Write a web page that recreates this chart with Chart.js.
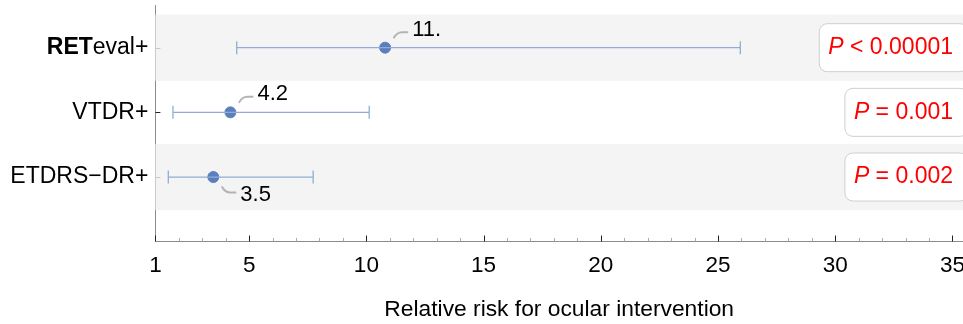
<!DOCTYPE html>
<html>
<head>
<meta charset="utf-8">
<script src="https://cdn.jsdelivr.net/npm/chart.js@4.4.1/dist/chart.umd.min.js"></script>
<style>
    body { margin: 0; background: #fff; }
    #wrap { width: 963px; height: 324px; position: relative; }
</style>
</head>
<body>
<div id="wrap"><canvas id="chart"></canvas></div>
<script>
// rows top to bottom
const categories = ['RETeval+', 'VTDR+', 'ETDRS\u2212DR+'];
const rowPos = [3, 2, 1];
const relRisk = [10.8, 4.2, 3.47];
const riskLabels = ['11.', '4.2', '3.5'];
const ciLow = [4.47, 1.75, 1.55];
const ciHigh = [25.95, 10.12, 7.73];
const pRelation = ['<', '=', '='];
const pValues = ['0.00001', '0.001', '0.002'];
const xTickValues = [1, 5, 10, 15, 20, 25, 30, 35];
const xTitle = 'Relative risk for ocular intervention';

const FONT = '"Liberation Sans", Arial, sans-serif';
const pointColor = '#5b7fbc';
const barColor = '#92acd6';
const labelBelow = [false, false, true];
const shaded = [true, false, true];

const datasets = [];
for (let i = 0; i < categories.length; i++) {
    datasets.push({
        type: 'line',
        data: [{x: ciLow[i], y: rowPos[i]}, {x: ciHigh[i], y: rowPos[i]}],
        borderColor: barColor,
        borderWidth: 1.3,
        pointStyle: 'line',
        pointRotation: 90,
        pointRadius: 6.5,
        pointBorderColor: barColor,
        pointBorderWidth: 1.3,
        pointHoverRadius: 6.5,
    });
}
datasets.push({
    type: 'scatter',
    data: relRisk.map((v, i) => ({x: v, y: rowPos[i]})),
    backgroundColor: pointColor,
    borderColor: pointColor,
    pointRadius: 5.5,
});

const decor = {
    id: 'decor',
    beforeDatasetsDraw(chart) {
        const c = chart.ctx, a = chart.chartArea;
        const xs = chart.scales.x, ys = chart.scales.y;
        c.save();
        // row bands
        for (let i = 0; i < rowPos.length; i++) {
            if (!shaded[i]) continue;
            const t = ys.getPixelForValue(rowPos[i] + 0.512);
            const b = ys.getPixelForValue(rowPos[i] - 0.512);
            c.fillStyle = '#f4f4f4';
            c.fillRect(a.left, t, a.right - a.left, b - t);
        }
        // y ticks + labels
        c.textBaseline = 'middle';
        c.textAlign = 'right';
        for (let i = 0; i < rowPos.length; i++) {
            const y = ys.getPixelForValue(rowPos[i]);
            c.strokeStyle = shaded[i] ? '#c8c8c8' : '#222';
            c.lineWidth = 1;
            c.beginPath();
            c.moveTo(a.left, Math.round(y) + 0.5);
            c.lineTo(a.left + 5, Math.round(y) + 0.5);
            c.stroke();
            c.fillStyle = '#000';
            const rx = a.left - 7;
            c.font = '23px ' + FONT;
            if (categories[i].startsWith('RET')) {
                const rest = categories[i].slice(3);
                const wr = c.measureText(rest).width;
                c.fillText(rest, rx, y);
                c.font = 'bold 23px ' + FONT;
                c.fillText('RET', rx - wr, y);
            } else {
                c.fillText(categories[i], rx, y);
            }
        }
        // x ticks pointing inward
        const yb = Math.round(a.bottom) - 0.5;
        for (let v = Math.ceil(xs.min); v <= xs.max; v++) {
            const px = Math.round(xs.getPixelForValue(v)) + 0.5;
            const major = xTickValues.includes(v);
            c.strokeStyle = major ? '#222' : '#aaa';
            c.beginPath();
            c.moveTo(px, yb);
            c.lineTo(px, yb - (major ? 6 : 3.5));
            c.stroke();
        }
        c.restore();
    },
    afterDatasetsDraw(chart) {
        const c = chart.ctx, a = chart.chartArea;
        const xs = chart.scales.x, ys = chart.scales.y;
        c.save();
        // value labels with callouts
        c.font = '22px ' + FONT;
        c.textBaseline = 'middle';
        c.textAlign = 'left';
        for (let i = 0; i < relRisk.length; i++) {
            const px = xs.getPixelForValue(relRisk[i]);
            const py = ys.getPixelForValue(rowPos[i]);
            const s = labelBelow[i] ? 1 : -1;
            c.strokeStyle = '#b4b4b4';
            c.lineWidth = 2;
            c.beginPath();
            c.moveTo(px + 8.5, py + s * 9.5);
            c.quadraticCurveTo(px + 11.5, py + s * 15.5, px + 17, py + s * 15.5);
            c.lineTo(px + 23, py + s * 15.5);
            c.stroke();
            c.fillStyle = '#000';
            c.fillText(riskLabels[i], px + 27, py + s * 18);
        }
        // p-value boxes
        for (let i = 0; i < pValues.length; i++) {
            const py = ys.getPixelForValue(rowPos[i]);
            const rest = ' ' + pRelation[i] + ' ' + pValues[i];
            c.font = '23px ' + FONT;
            const wr = c.measureText(rest).width;
            c.font = 'italic 23px ' + FONT;
            const wp = c.measureText('P').width;
            const right = a.right - 10;
            const left = right - wr - wp;
            c.beginPath();
            c.roundRect(left - 9, py - 24, a.right - left + 14, 48, 8);
            c.fillStyle = '#fff';
            c.fill();
            c.strokeStyle = '#cfcfcf';
            c.lineWidth = 1;
            c.stroke();
            c.fillStyle = '#ff0000';
            c.textAlign = 'left';
            c.fillText('P', left, py);
            c.font = '23px ' + FONT;
            c.fillText(rest, left + wp, py);
        }
        c.restore();
    }
};

function pinScale(s, size) {
    if (s.isHorizontal()) s.height = size; else s.width = size;
    s.paddingLeft = 0;
    s.paddingRight = 0;
    s.paddingTop = 0;
    s.paddingBottom = 0;
}

new Chart(document.getElementById('chart'), {
    type: 'scatter',
    data: {datasets: datasets},
    plugins: [decor],
    options: {
        responsive: true,
        maintainAspectRatio: false,
        animation: false,
        layout: {autoPadding: false, padding: {top: 5, right: 0, bottom: 0, left: 0}},
        plugins: {legend: {display: false}, tooltip: {enabled: false}},
        scales: {
            x: {
                type: 'linear',
                min: 1,
                max: 35.45,
                afterFit: (s) => pinScale(s, 82.3),
                afterBuildTicks: (s) => { s.ticks = xTickValues.map(v => ({value: v})); },
                grid: {display: false, drawTicks: false},
                border: {display: true, color: '#8c8c8c', width: 1},
                ticks: {
                    color: '#000',
                    font: {family: FONT, size: 22.5},
                    padding: 11,
                    maxRotation: 0,
                    autoSkip: false,
                },
                title: {
                    display: true,
                    text: xTitle,
                    color: '#000',
                    font: {family: FONT, size: 22.8},
                    padding: {top: 0, bottom: 1},
                },
            },
            y: {
                type: 'linear',
                min: 0,
                max: 3.66,
                afterFit: (s) => pinScale(s, 155.4),
                grid: {display: false, drawTicks: false},
                border: {display: true, color: '#8c8c8c', width: 1},
                ticks: {display: false},
            },
        },
    },
});
</script>
</body>
</html>
